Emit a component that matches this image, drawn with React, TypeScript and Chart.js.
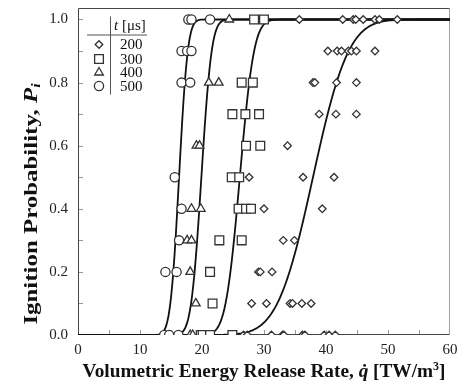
import React, { useEffect, useRef } from 'react';
import { Chart, registerables } from 'chart.js';
import { drawPoint } from 'chart.js/helpers';

Chart.register(...registerables);

const FONT = "'Liberation Serif', 'Times New Roman', serif";

const xTickValues = [0, 10, 20, 30, 40, 50, 60];
const yTickValues = [0, 0.2, 0.4, 0.6, 0.8, 1.0];

// Spark durations, t [μs]
const durations = ['200', '300', '400', '500'];

// Ignition trials: [ignition probability, energy release rates (TW/m³) observed at it]
const trials200: [number, number[]][] = [
  [1.0, [35.7, 42.7, 44.4, 44.8, 46.0, 47.9, 48.6, 51.5]],
  [0.9, [40.3, 41.8, 42.5, 43.6, 44.1, 44.9, 47.9]],
  [0.8, [37.9, 38.2, 41.7, 44.9]],
  [0.7, [38.9, 41.6, 44.9]],
  [0.6, [33.8]],
  [0.5, [27.6, 36.3, 41.3]],
  [0.4, [30.0, 39.4]],
  [0.3, [33.1, 34.9]],
  [0.2, [29.1, 29.4, 31.3]],
  [0.1, [28.0, 30.4, 34.2, 34.6, 36.1, 37.6]],
  [0.0, [26.7, 27.3, 31.2, 33.0, 33.2, 36.2, 36.6, 39.7, 40.5, 41.5]],
];

const trials300: [number, number[]][] = [
  [1.0, [28.4, 30.0]],
  [0.8, [26.4, 28.2]],
  [0.7, [24.9, 27.0, 29.2]],
  [0.6, [27.1, 29.4]],
  [0.5, [24.8, 26.0]],
  [0.4, [25.9, 27.1, 27.9]],
  [0.3, [22.8, 26.4]],
  [0.2, [21.3]],
  [0.1, [21.7]],
  [0.0, [19.8, 20.1, 21.3, 24.9]],
];

const trials400: [number, number[]][] = [
  [1.0, [24.4]],
  [0.8, [21.1, 22.7]],
  [0.6, [19.1, 19.6]],
  [0.4, [18.3, 19.8]],
  [0.3, [17.6, 18.3]],
  [0.2, [18.1]],
  [0.1, [19.0]],
  [0.0, [18.1, 18.5]],
];

const trials500: [number, number[]][] = [
  [1.0, [17.8, 18.3, 21.3]],
  [0.9, [16.7, 17.6, 18.3]],
  [0.8, [16.7, 18.1]],
  [0.5, [15.6]],
  [0.4, [16.7]],
  [0.3, [16.3]],
  [0.2, [14.1, 15.9]],
  [0.0, [13.9, 14.7, 16.2]],
];

// Cumulative normal fits per duration (200, 300, 400, 500 μs)
const fitMean = [37.9, 26.1, 19.9, 16.3];
const fitSigma = [4.5, 1.8, 1.3, 1.1];

const allTrials = [trials200, trials300, trials400, trials500];
const markerStyles = ['rectRot', 'rect', 'triangle', 'circle'];
const markerRadii = [3.8, 6.2, 5, 4.6];

const X_MIN = 0;
const X_MAX = 60;
const Y_MIN = 0;
const Y_MAX = 1.038;

function erf(z: number): number {
  const s = z < 0 ? -1 : 1;
  const a = Math.abs(z);
  const t = 1 / (1 + 0.3275911 * a);
  const y =
    1 -
    ((((1.061405429 * t - 1.453152027) * t + 1.421413741) * t - 0.284496736) * t + 0.254829592) *
      t *
      Math.exp(-a * a);
  return s * y;
}

function normalCdf(x: number, mu: number, sigma: number): number {
  return 0.5 * (1 + erf((x - mu) / (sigma * Math.SQRT2)));
}

function fitCurve(mu: number, sigma: number) {
  const pts: { x: number; y: number }[] = [];
  for (let i = 0; i <= 300; i++) {
    const x = X_MIN + ((X_MAX - X_MIN) * i) / 300;
    pts.push({ x, y: normalCdf(x, mu, sigma) });
  }
  return pts;
}

function toPoints(trials: [number, number[]][]) {
  const pts: { x: number; y: number }[] = [];
  trials.forEach(([p, rates]) => rates.forEach((q) => pts.push({ x: q, y: p })));
  return pts;
}

type Run = { t: string; italic?: boolean; scale?: number; rise?: number; dot?: boolean };

function drawRuns(ctx: CanvasRenderingContext2D, runs: Run[], size: number) {
  const fontOf = (r: Run) =>
    `${r.italic ? 'italic ' : ''}bold ${(size * (r.scale || 1)).toFixed(1)}px ${FONT}`;
  const widths = runs.map((r) => {
    ctx.font = fontOf(r);
    return ctx.measureText(r.t).width;
  });
  const total = widths.reduce((a, b) => a + b, 0);
  let cx = -total / 2;
  ctx.textAlign = 'left';
  ctx.textBaseline = 'alphabetic';
  runs.forEach((r, i) => {
    ctx.font = fontOf(r);
    const dy = -(r.rise || 0) * size;
    ctx.fillText(r.t, cx, dy);
    if (r.dot) {
      ctx.beginPath();
      ctx.arc(cx + widths[i] * 0.62, dy - size * 0.6, size * 0.075, 0, Math.PI * 2);
      ctx.fill();
    }
    cx += widths[i];
  });
}

const decorPlugin = {
  id: 'decor',
  beforeDatasetsDraw(chart: any) {
    const { ctx, chartArea: a, scales } = chart;
    const xs = scales.x;
    const ys = scales.y;
    ctx.save();
    ctx.lineWidth = 1;
    ctx.strokeStyle = '#9a9a9a';
    ctx.beginPath();
    for (let v = 5; v < X_MAX; v += 5) {
      const px = Math.round(xs.getPixelForValue(v)) + 0.5;
      ctx.moveTo(px, a.bottom);
      ctx.lineTo(px, a.bottom - 5);
    }
    for (let k = 1; k <= 10; k++) {
      const py = Math.round(ys.getPixelForValue(k / 10)) + 0.5;
      ctx.moveTo(a.left, py);
      ctx.lineTo(a.left + 5, py);
    }
    ctx.stroke();

    const L = Math.round(a.left) + 0.5;
    const R = Math.round(a.right) - 0.5;
    const T = Math.round(a.top) + 0.5;
    const B = Math.round(a.bottom) - 0.5;
    ctx.strokeStyle = '#a0a0a0';
    ctx.beginPath();
    ctx.moveTo(R, T);
    ctx.lineTo(R, B);
    ctx.stroke();
    ctx.strokeStyle = '#444';
    ctx.beginPath();
    ctx.moveTo(R, T);
    ctx.lineTo(L, T);
    ctx.lineTo(L, B);
    ctx.lineTo(R, B);
    ctx.stroke();
    ctx.restore();
  },
  afterDraw(chart: any) {
    const { ctx, chartArea: a } = chart;
    ctx.save();
    ctx.fillStyle = '#111';

    // legend table in the upper-left corner
    const lx = a.left;
    const ly = a.top;
    ctx.strokeStyle = '#555';
    ctx.lineWidth = 1;
    ctx.beginPath();
    ctx.moveTo(lx + 32.5, ly + 9);
    ctx.lineTo(lx + 32.5, ly + 87);
    ctx.moveTo(lx + 9, ly + 27.5);
    ctx.lineTo(lx + 69, ly + 27.5);
    ctx.stroke();

    ctx.textBaseline = 'alphabetic';
    ctx.textAlign = 'left';
    ctx.font = `italic 15px ${FONT}`;
    ctx.fillText('t', lx + 36, ly + 22);
    const tw = ctx.measureText('t ').width;
    ctx.font = `15px ${FONT}`;
    ctx.fillText('[μs]', lx + 36 + tw, ly + 22);

    const rowY = [37, 51.5, 65, 78.5];
    durations.forEach((label, i) => {
      ctx.font = `15px ${FONT}`;
      ctx.fillStyle = '#111';
      ctx.textBaseline = 'middle';
      ctx.fillText(label, lx + 42, ly + rowY[i] + 1);
      ctx.fillStyle = '#fff';
      ctx.strokeStyle = '#333';
      ctx.lineWidth = 1.3;
      drawPoint(
        ctx,
        { pointStyle: markerStyles[i] as any, radius: markerRadii[i], rotation: 0, borderWidth: 1.3 },
        lx + 21,
        ly + rowY[i]
      );
    });

    // axis titles
    ctx.fillStyle = '#111';
    ctx.save();
    ctx.translate((a.left + a.right) / 2, 377);
    drawRuns(
      ctx,
      [
        { t: 'Volumetric Energy Release Rate, ' },
        { t: 'q', italic: true, dot: true },
        { t: ' [TW/m' },
        { t: '3', scale: 0.62, rise: 0.38 },
        { t: ']' },
      ],
      19.3
    );
    ctx.restore();

    ctx.save();
    ctx.translate(37, 204);
    ctx.rotate(-Math.PI / 2);
    ctx.scale(1.31, 1);
    drawRuns(
      ctx,
      [
        { t: 'Ignition Probability, ' },
        { t: 'P', italic: true },
        { t: 'i', italic: true, scale: 0.65, rise: -0.18 },
      ],
      19
    );
    ctx.restore();
    ctx.restore();
  },
};

export default function App() {
  const canvasRef = useRef<HTMLCanvasElement | null>(null);

  useEffect(() => {
    document.body.style.margin = '0';
    const canvas = canvasRef.current;
    if (!canvas) return;

    const markerSets = allTrials.map((trials, i) => ({
      label: durations[i],
      data: toPoints(trials),
      showLine: false,
      pointStyle: markerStyles[i],
      pointRadius: markerRadii[i],
      pointHoverRadius: markerRadii[i],
      pointBackgroundColor: '#ffffff',
      pointBorderColor: '#333333',
      pointBorderWidth: 1.3,
      order: 0,
    }));

    const curveSets = fitMean.map((mu, i) => ({
      label: `fit ${durations[i]}`,
      data: fitCurve(mu, fitSigma[i]),
      showLine: true,
      borderColor: '#111111',
      borderWidth: 1.8,
      pointRadius: 0,
      tension: 0,
      order: 1,
    }));

    const tickFont = { family: FONT, size: 15 };

    const chart = new Chart(canvas, {
      type: 'scatter',
      data: { datasets: [...markerSets, ...curveSets] as any },
      plugins: [decorPlugin],
      options: {
        animation: false,
        responsive: false,
        devicePixelRatio: 1,
        layout: { padding: { top: 6, right: 10, left: 0, bottom: 0 } },
        plugins: {
          legend: { display: false },
          tooltip: { enabled: false },
        },
        scales: {
          x: {
            type: 'linear',
            min: X_MIN,
            max: X_MAX,
            grid: { display: false, drawTicks: false },
            border: { display: false },
            ticks: {
              font: tickFont,
              color: '#222',
              padding: 6,
              maxRotation: 0,
              callback: (v: any) => String(v),
            },
            afterBuildTicks: (s: any) => {
              s.ticks = xTickValues.map((v) => ({ value: v }));
            },
            afterFit: (s: any) => {
              s.height = 47;
              s.paddingLeft = 0;
              s.paddingRight = 0;
            },
          },
          y: {
            type: 'linear',
            min: Y_MIN,
            max: Y_MAX,
            grid: { display: false, drawTicks: false },
            border: { display: false },
            ticks: {
              font: tickFont,
              color: '#222',
              padding: 10,
              callback: (v: any) => Number(v).toFixed(1),
            },
            afterBuildTicks: (s: any) => {
              s.ticks = yTickValues.map((v) => ({ value: v }));
            },
            afterFit: (s: any) => {
              s.width = 78;
              s.paddingTop = 0;
              s.paddingBottom = 0;
            },
          },
        },
      },
    });

    return () => chart.destroy();
  }, []);

  return (
    <div style={{ position: 'absolute', left: 0, top: 0, width: 460, height: 382, background: '#fff' }}>
      <canvas ref={canvasRef} width={460} height={382} />
    </div>
  );
}
